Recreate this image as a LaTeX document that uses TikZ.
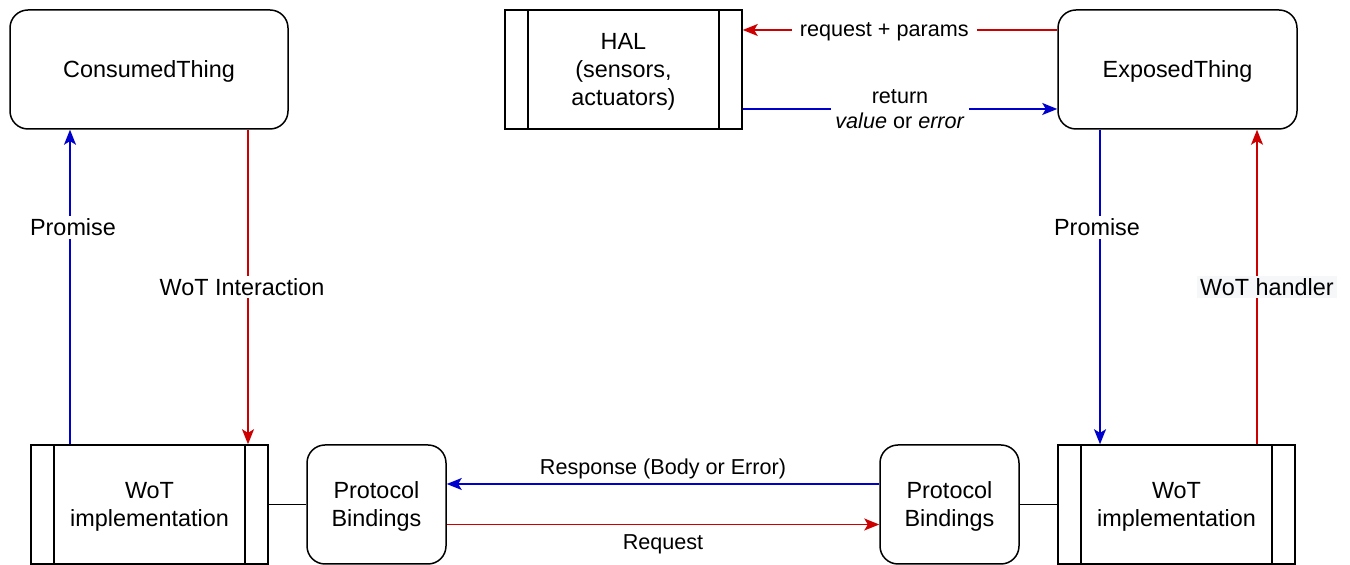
\documentclass[tikz,border=0pt]{standalone}
\usepackage{fontspec}
\setmainfont{Liberation Sans}
\usetikzlibrary{arrows.meta}
\definecolor{wotblue}{RGB}{0,0,204}
\definecolor{wotred}{RGB}{204,0,0}
\definecolor{hintgray}{RGB}{246,247,249}
\begin{document}
\begin{tikzpicture}[x=0.5pt,y=-0.5pt,
  every node/.style={font=\fontsize{11.7}{14}\selectfont, text depth=0pt},
  thing/.style={draw, line width=0.75pt, rounded corners=9pt, minimum height=59.5pt, align=center},
  process/.style={draw, line width=0.75pt, minimum width=118.5pt, minimum height=59.5pt, align=center,
    path picture={
      \draw[line width=0.75pt] ([xshift=11.5pt]path picture bounding box.north west) -- ([xshift=11.5pt]path picture bounding box.south west);
      \draw[line width=0.75pt] ([xshift=-11.5pt]path picture bounding box.north east) -- ([xshift=-11.5pt]path picture bounding box.south east);}},
  bluearrow/.style={draw=wotblue, line width=0.75pt, -{Stealth[length=7.5pt,width=6pt,inset=1.8pt]}, fill=wotblue},
  redarrow/.style={draw=wotred, line width=0.75pt, -{Stealth[length=7.5pt,width=6pt,inset=1.8pt]}, fill=wotred},
  lbl/.style={fill=white, inner sep=1.5pt},
  small/.style={font=\fontsize{10.8}{12.5}\selectfont}]
\useasboundingbox (0,0) rectangle (1350,565);
% top row
\node[thing, minimum width=139pt] (ct) at (149,69.5) {ConsumedThing};
\node[process, minimum width=118.5pt] (hal) at (623.5,69.5) {HAL\\(sensors,\\actuators)};
\node[thing, minimum width=119.5pt] (et) at (1177.5,69.5) {ExposedThing};
% bottom row
\node[process] (wl) at (149.5,504.5) {WoT\\implementation};
\node[thing, minimum width=69.5pt] (pl) at (376.5,504.5) {Protocol\\Bindings};
\node[thing, minimum width=69.5pt] (pr) at (949.5,504.5) {Protocol\\Bindings};
\node[process] (wr) at (1176.5,504.5) {WoT\\implementation};
\draw[line width=0.9pt] (wl) -- (pl);
\draw[line width=0.9pt] (pr) -- (wr);
% consumer side
\draw[bluearrow] ([xshift=-39.75pt]wl.north) -- node[lbl, pos=0.69, xshift=1.5pt] {Promise} ([xshift=-39.5pt]ct.south);
\draw[redarrow] ([xshift=49.5pt]ct.south) -- node[lbl, xshift=-3pt] {WoT Interaction} ([xshift=49.25pt]wl.north);
% exposed side
\draw[redarrow] ([yshift=19.75pt]et.west) -- node[lbl, small, pos=0.55, inner sep=4pt] {request + params} ([yshift=19.75pt]hal.east);
\draw[bluearrow] ([yshift=-19.75pt]hal.east) -- node[lbl, small, align=center, inner sep=2pt] {return\\\textit{value} or \textit{error}} ([yshift=-19.75pt]et.west);
\draw[bluearrow] ([xshift=-38.75pt]et.south) -- node[lbl, pos=0.31, xshift=-1.5pt] {Promise} ([xshift=-38.25pt]wr.north);
\draw[redarrow] ([xshift=40.25pt]wr.north) -- node[fill=hintgray, inner sep=1.5pt, xshift=5pt] {WoT handler} ([xshift=39.75pt]et.south);
% protocol exchange
\draw[bluearrow] ([yshift=10.25pt]pr.west) -- node[small, above, yshift=1pt] {Response (Body or Error)} ([yshift=10.25pt]pl.east);
\draw[redarrow] ([yshift=-10pt]pl.east) -- node[small, below, yshift=-1.5pt] {Request} ([yshift=-10pt]pr.west);
\end{tikzpicture}
\end{document}
